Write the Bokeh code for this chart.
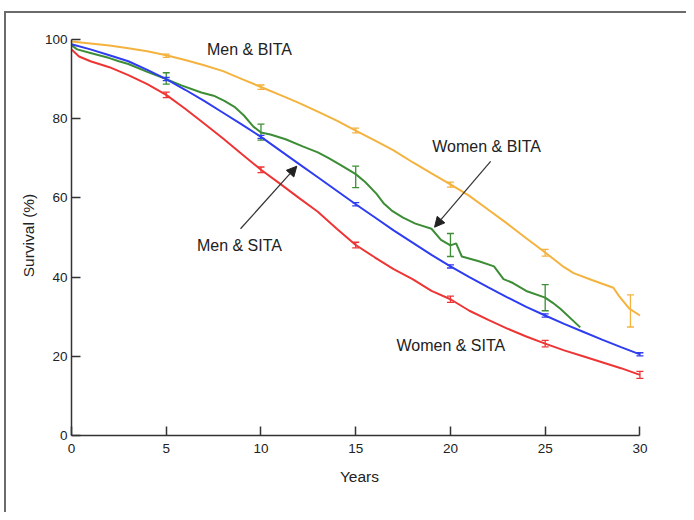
from bokeh.plotting import figure
from bokeh.models import Range1d, Label, Arrow, NormalHead, Whisker, ColumnDataSource, TeeHead, FixedTicker
from bokeh.embed import file_html
from bokeh.resources import INLINE

# ---- data ----
men_bita_x = [0, 1, 2, 3, 4, 5, 6, 7, 8, 9, 10, 11, 12, 13, 14, 15, 16, 17, 18, 19, 20,
              21, 22, 23, 24, 25, 26, 26.5, 27.5, 28.6, 28.9, 29.45, 30]
men_bita_y = [99.5, 99, 98.5, 97.8, 97, 96, 94.8, 93.5, 92, 90, 88, 86, 84, 81.8, 79.5, 77,
              74.5, 72, 69, 66.2, 63.4, 60.5, 57, 53.5, 49.8, 46.2, 42.5, 41, 39.2, 37.3, 35.2, 32, 30.3]

women_bita_x = [0, 0.3, 1, 2, 2.5, 3, 4, 5, 5.8, 6.85, 7.5, 8.07, 8.6, 9.1, 9.6, 10, 10.5, 11.3,
                12.2, 13, 13.6, 14.3, 15, 15.5, 16.1, 16.5, 16.9, 17.5, 18.15, 19, 19.5, 20,
                20.3, 20.6, 21.5, 22.3, 22.8, 23.3, 24, 25, 25.4, 25.8, 26.85]
women_bita_y = [98.5, 97.5, 96.6, 95.3, 94.5, 93.8, 91.8, 90, 88.4, 86.6, 85.8, 84.5, 83, 80.8,
                78, 76.5, 76, 74.8, 73, 71.5, 70, 68, 66, 64, 61, 58.5, 56.8, 55, 53.5, 52.2,
                49.4, 48, 48.5, 45.2, 44, 42.7, 39.5, 38.5, 36.5, 34.8, 33.5, 32, 27.3]

men_sita_x = list(range(0, 31))
men_sita_y = [98.8, 97.5, 96, 94.5, 92.3, 90, 87.3, 84.5, 81.5, 78.5, 75.4, 72, 68.6, 65.2,
              61.8, 58.4, 55.1, 51.8, 48.7, 45.6, 42.7, 40, 37.4, 34.9, 32.5, 30.3, 28.2,
              26.2, 24.2, 22.3, 20.5]

women_sita_x = [0, 0.4] + list(range(1, 31))
women_sita_y = [97.5, 95.7, 94.5, 93, 91, 88.7, 86, 82.5, 78.8, 75, 71, 67.1, 63.6, 60, 56.5,
                52.2, 48.1, 45, 42, 39.5, 36.5, 34.4, 31.5, 29.2, 27, 25, 23.2, 21.5, 20,
                18.5, 17, 15.3]

# error bars
men_bita_err_x = [5, 10, 15, 20, 25, 29.5]
men_bita_err_lo = [95.5, 87.4, 76.4, 62.7, 45.3, 27.4]
men_bita_err_hi = [96.3, 88.5, 77.6, 64.0, 47.0, 35.5]

women_bita_err_x = [5, 10, 15, 20, 25]
women_bita_err_lo = [88.7, 74.6, 62.6, 45.2, 31.5]
women_bita_err_hi = [91.6, 78.6, 68.0, 51.0, 38.1]

men_sita_err_x = [5, 10, 15, 20, 25, 30]
men_sita_err_lo = [89.6, 75.0, 58.0, 42.3, 29.9, 20.1]
men_sita_err_hi = [90.4, 75.8, 58.8, 43.1, 30.7, 20.9]

women_sita_err_x = [5, 10, 15, 20, 25, 30]
women_sita_err_lo = [85.3, 66.4, 47.4, 33.6, 22.4, 14.4]
women_sita_err_hi = [86.7, 67.8, 48.8, 35.2, 24.0, 16.2]

x_ticks = [0, 5, 10, 15, 20, 25, 30]
y_ticks = [0, 20, 40, 60, 80, 100]

ORANGE = "#f4b23e"
GREEN = "#3c8d35"
BLUE = "#2e3df0"
RED = "#ee3535"
TXT = "#222222"
FONT = "Liberation Sans"

p = figure(width=686, height=512, output_backend="svg", toolbar_location=None,
           x_range=Range1d(0, 30.4), y_range=Range1d(0, 101))
p.styles = {
    "background-color": "white",
    "background-image": "linear-gradient(#6b6b6b, #6b6b6b), linear-gradient(#6b6b6b, #6b6b6b)",
    "background-position": "4px 11px, 4px 11px",
    "background-size": "2px 100%, 100% 2px",
    "background-repeat": "no-repeat",
}
p.min_border_left = 71
p.min_border_right = 39
p.min_border_top = 35
p.min_border_bottom = 77
p.outline_line_color = None
p.grid.visible = False
p.background_fill_color = "white"
p.border_fill_color = None

for ax, ticks, bounds in ((p.xaxis[0], x_ticks, (0, 30)), (p.yaxis[0], y_ticks, (0, 100))):
    ax.ticker = FixedTicker(ticks=ticks)
    ax.bounds = bounds
    ax.major_tick_in = 9
    ax.major_tick_out = 0
    ax.minor_tick_in = 0
    ax.minor_tick_out = 0
    ax.axis_line_color = "#333333"
    ax.axis_line_width = 1.5
    ax.major_tick_line_color = "#333333"
    ax.major_tick_line_width = 1.5
    ax.major_label_text_font = FONT
    ax.major_label_text_font_size = "13.5px"
    ax.major_label_text_color = TXT
    ax.axis_label_text_font = FONT
    ax.axis_label_text_font_size = "15.5px"
    ax.axis_label_text_font_style = "normal"
    ax.axis_label_text_color = TXT

p.xaxis.axis_label = "Years"
p.yaxis.axis_label = "Survival (%)"
p.xaxis.major_label_standoff = 8
p.yaxis.major_label_standoff = 4
p.xaxis.axis_label_standoff = 12
p.yaxis.axis_label_standoff = 5

series = [
    (men_bita_x, men_bita_y, men_bita_err_x, men_bita_err_lo, men_bita_err_hi, ORANGE),
    (women_bita_x, women_bita_y, women_bita_err_x, women_bita_err_lo, women_bita_err_hi, GREEN),
    (men_sita_x, men_sita_y, men_sita_err_x, men_sita_err_lo, men_sita_err_hi, BLUE),
    (women_sita_x, women_sita_y, women_sita_err_x, women_sita_err_lo, women_sita_err_hi, RED),
]
for xs, ys, ex, elo, ehi, col in series:
    p.line(xs, ys, line_color=col, line_width=2)
    src = ColumnDataSource(dict(x=ex, lo=elo, hi=ehi))
    w = Whisker(source=src, base="x", lower="lo", upper="hi", line_color=col, line_width=1.3,
                upper_head=TeeHead(size=7, line_color=col, line_width=1.3),
                lower_head=TeeHead(size=7, line_color=col, line_width=1.3))
    p.add_layout(w)

labels = [
    ("Men & BITA", 7.15, 97.4),
    ("Women & BITA", 19.04, 73.0),
    ("Men & SITA", 6.62, 48.0),
    ("Women & SITA", 17.15, 22.8),
]
for t, lx, ly in labels:
    p.add_layout(Label(x=lx, y=ly, text=t, text_font=FONT, text_font_size="16px",
                       text_color=TXT, text_align="left", text_baseline="middle"))

arrows = [((8.92, 52.2), (11.89, 68.0)), ((22.12, 69.2), (19.16, 52.6))]
for (x0, y0), (x1, y1) in arrows:
    p.add_layout(Arrow(x_start=x0, y_start=y0, x_end=x1, y_end=y1, line_color="#333333",
                       line_width=1.2,
                       end=NormalHead(size=10, fill_color="#222222", line_color="#222222")))

open("out.html", "w").write(file_html(p, INLINE))
